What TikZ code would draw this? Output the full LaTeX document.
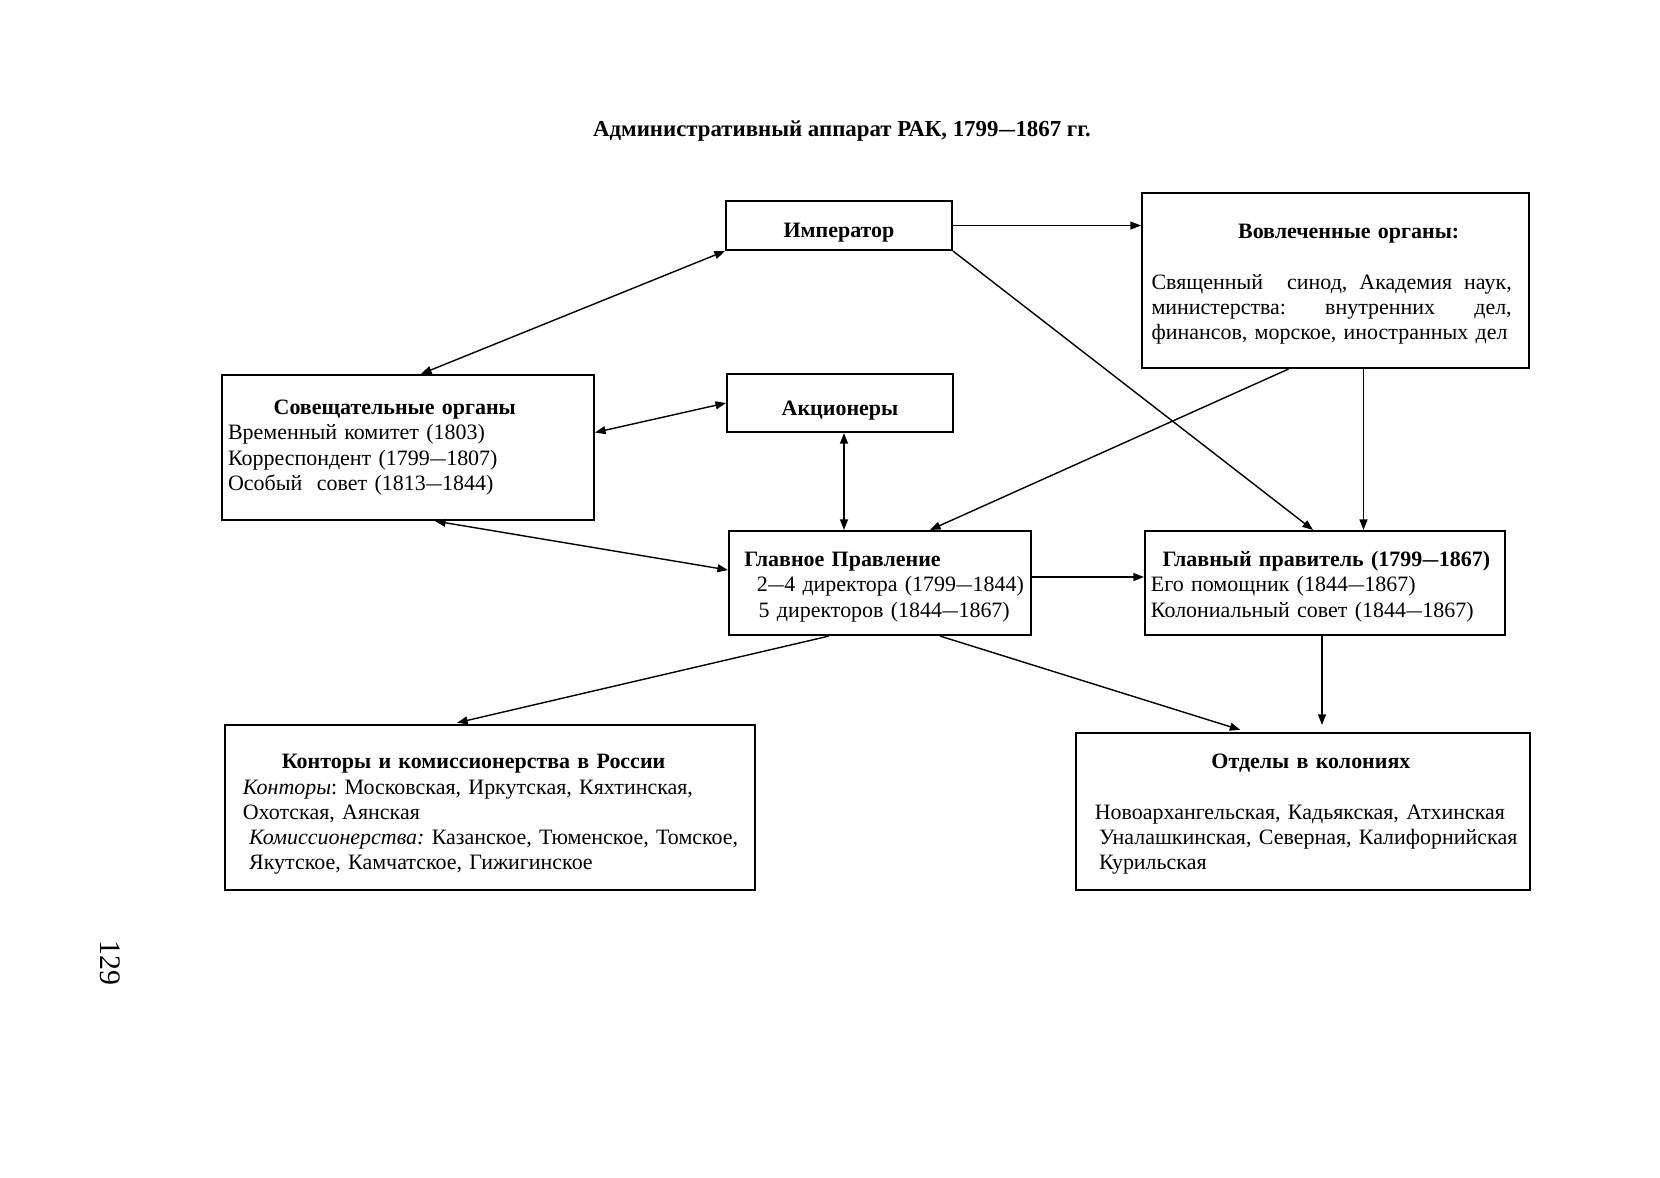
\documentclass[tikz,border=0pt]{standalone}
\usepackage{fontspec}
\usepackage{graphicx}
\setmainfont{Liberation Serif}
\usetikzlibrary{arrows.meta, calc}
\frenchspacing
\newcommand{\dsh}{\kern0.3pt\scalebox{1.4}[1]{--}\kern0.3pt}
\tikzset{
    box/.style={
        draw=black,
        line width=1.2pt,
        fill=white,
        font=\fontsize{12.5}{14.4}\selectfont,
        align=left,
        inner xsep=3pt,
        inner ysep=0pt
    },
    headbox/.style={
        draw=black,
        line width=1.2pt,
        fill=white,
        font=\fontsize{12.5}{14.4}\selectfont\bfseries,
        align=center,
        minimum width=4.52cm
    },
    arrow/.style={
        -{Triangle[length=6pt,width=4.5pt]},
        line width=0.8pt,
        black
    },
    dblarrow/.style={
        {Triangle[length=6pt,width=4.5pt]}-{Triangle[length=6pt,width=4.5pt]},
        line width=0.8pt,
        black
    }
}
\begin{document}
\begin{tikzpicture}[x=0.02cm, y=-0.02cm]
        \useasboundingbox (0,0) rectangle (1660,1177);

        % Title
        \node[font=\fontsize{13}{15}\selectfont\bfseries] (title) at (842,131) {Административный аппарат РАК, 1799\dsh1867 гг.};

        % Emperor box
        \node[headbox, minimum height=0.98cm] (emperor) at (839,225.5) {\rule{0pt}{16pt}Император};

        % Involved organs box
        \node[box, minimum width=7.74cm, minimum height=3.5cm, text width=213.4pt] (organs) at (1335.5,280.5) {
            \rule{0pt}{12.6pt}\makebox[\linewidth]{\hspace{15pt}\textbf{Вовлеченные органы:}}\\[14.4pt]
            \hspace*{2pt}\makebox[205pt][s]{Священный\hfill\hfill синод,\hfill Академия\hfill наук,}\\
            \hspace*{2pt}\makebox[205pt][s]{министерства:\hfill внутренних\hfill дел,}\\
            \hspace*{2pt}финансов, морское, иностранных дел
        };

        % Advisory box
        \node[box, minimum width=7.44cm, minimum height=2.9cm, text width=204.9pt] (council) at (408,447.5) {
            \hspace*{26pt}\textbf{Совещательные органы}\\
            Временный комитет (1803)\\
            Корреспондент (1799\dsh1807)\\
            Особый\ \ совет (1813\dsh1844)
        };

        % Shareholders box
        \node[headbox, minimum height=1.16cm] (holders) at (840,403) {\rule{0pt}{17.4pt}Акционеры};

        % Main board box
        \node[box, minimum width=6.04cm, minimum height=2.08cm, text width=165.2pt] (board) at (880,583) {
            \rule{0pt}{12.6pt}\hspace*{5.4pt}\textbf{Главное Правление}\\
            \hspace*{12.5pt}\mbox{2\dsh4 директора (1799\dsh1844)}\\
            \hspace*{13.5pt}\mbox{5 директоров (1844\dsh1867)}
        };

        % Chief manager box
        \node[box, minimum width=7.2cm, minimum height=2.08cm, text width=198.1pt] (governor) at (1325,583) {
            \rule{0pt}{12.6pt}\hspace*{6.6pt}\textbf{Главный правитель (1799\dsh1867)}\\
            Его помощник (1844\dsh1867)\\
            Колониальный совет (1844\dsh1867)
        };

        % Offices box
        \node[box, minimum width=10.6cm, minimum height=3.3cm, text width=294.5pt] (offices) at (490,807.5) {
            \rule{0pt}{16.2pt}\hspace*{28.8pt}\textbf{Конторы и комиссионерства в России}\\
            \hspace*{6.6pt}\textit{Конторы}: Московская, Иркутская, Кяхтинская,\\
            \hspace*{6.6pt}Охотская, Аянская\\
            \hspace*{10.2pt}\mbox{\textit{Комиссионерства:} Казанское, Тюменское, Томское,}\\
            \hspace*{10.2pt}Якутское, Камчатское, Гижигинское
        };

        % Colonial departments box
        \node[box, minimum width=9.08cm, minimum height=3.14cm, text width=251.4pt] (depts) at (1303,811.5) {
            \rule{0pt}{11.4pt}\makebox[\linewidth]{\hspace{9pt}\textbf{Отделы в колониях}}\\[14.4pt]
            \hspace*{7.2pt}Новоархангельская, Кадьякская, Атхинская\\
            \hspace*{9.6pt}Уналашкинская, Северная, Калифорнийская\\
            \hspace*{9.6pt}Курильская
        };

        % Page number
        \node[font=\fontsize{17}{20}\selectfont, rotate=-90] (page) at (110,963) {129};

        % Helper points
        \coordinate (holdersdn) at ($(holders.south)+(4,0)$);
        \coordinate (organsdn) at ($(organs.south)+(28,0)$);
        \coordinate (boardrt) at ($(board.east)+(0,-6)$);
        \coordinate (governordn) at ($(governor.south)+(-3,0)$);

        % Arrows
        \draw[dblarrow] (emperor.south west) -- ($(council.north)+(13,0)$);
        \draw[dblarrow] ($(council.east)+(0,-15)$) -- (holders.west);
        \draw[dblarrow] ($(council.south)+(27,0)$) -- ($(board.west)+(0,-13)$);
        \draw[dblarrow] (holdersdn) -- (holdersdn |- board.north);
        \draw[arrow] (emperor.east) -- (emperor.east -| organs.west);
        \draw[arrow] (emperor.south east) -- ($(governor.north)+(-12,0)$);
        \draw[arrow] ($(organs.south)+(-47,0)$) -- ($(board.north)+(50,0)$);
        \draw[arrow] (organsdn) -- (organsdn |- governor.north);
        \draw[arrow] (boardrt) -- (boardrt -| governor.west);
        \draw[arrow, shorten >=3pt] ($(board.south)+(-51,0)$) -- ($(offices.north)+(-38,0)$);
        \draw[arrow, shorten >=4pt] ($(board.south)+(60,0)$) -- ($(depts.north)+(-56,0)$);
        \draw[arrow, shorten >=4pt] (governordn) -- (governordn |- depts.north);
    \end{tikzpicture}
\end{document}
